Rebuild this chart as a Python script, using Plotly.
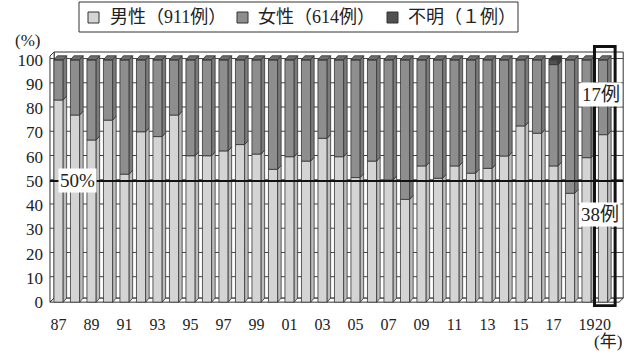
import plotly.graph_objects as go

# Survey years (two-digit labels) 1987-2020
years = ["87", "88", "89", "90", "91", "92", "93", "94", "95", "96", "97",
         "98", "99", "00", "01", "02", "03", "04", "05", "06", "07", "08",
         "09", "10", "11", "12", "13", "14", "15", "16", "17", "18", "19", "20"]

# Share of male cases (%) for 1987-2019
male_pct_to_2019 = [83.4, 77.2, 66.9, 75.1, 52.8, 70.3, 68.3, 77.2, 60.4, 60.4,
                    62.4, 65.0, 61.1, 54.8, 60.0, 58.2, 67.6, 60.0, 51.4, 58.2,
                    50.4, 42.4, 56.2, 51.1, 56.2, 53.2, 55.2, 60.3, 72.7, 69.7,
                    56.2, 44.9, 59.6]

# Case counts for 2020
male_2020 = 38
female_2020 = 17

# Cases of unknown sex (% of the year's cases)
unknown_pct_by_year = {"17": 2.0}

legend_labels = ["男性（911例）", "女性（614例）", "不明（１例）"]

# ---- derived series --------------------------------------------------------
male_pct = male_pct_to_2019 + [100.0 * male_2020 / (male_2020 + female_2020)]
unknown_pct = [unknown_pct_by_year.get(y, 0.0) for y in years]
female_pct = [100.0 - m - u for m, u in zip(male_pct, unknown_pct)]
idx = list(range(len(years)))

FONT = "Liberation Serif, Noto Sans CJK JP, serif"
OUTLINE = "#333333"

FRONT = {"male": "#d4d4d4", "female": "#8e8e8e", "unknown": "#505050"}
SIDE = {"male": "#bdbdbd", "female": "#7a7a7a", "unknown": "#3c3c3c"}
TOP = {"male": "#c4c4c4", "female": "#6e6e6e", "unknown": "#3a3a3a"}

BAR_W = 0.56     # front face width (category units)
DEPTH_X = 0.21   # bar depth, horizontal component
DEPTH_Y = 1.65   # bar depth, vertical component (%)

# chart geometry (pixels) for paper-coordinate helpers
W, H = 629, 356
ML, MR, MT, MB = 48, 3, 44, 49
PW, PH = W - ML - MR, H - MT - MB


def px_x(p):
    return (p - ML) / PW


def px_y(p):
    return (H - MB - p) / PH


fig = go.Figure()

segments = [
    ("male", male_pct, [0.0] * len(idx)),
    ("female", female_pct, male_pct),
    ("unknown", unknown_pct, [m + f for m, f in zip(male_pct, female_pct)]),
]

# front faces
for key, vals, base in segments:
    fig.add_trace(go.Bar(
        x=idx, y=vals, base=base, width=BAR_W,
        marker=dict(color=FRONT[key], line=dict(color=OUTLINE, width=0.8)),
        showlegend=False, hoverinfo="skip"))

# side faces (right-hand parallelograms)
for key, vals, base in segments:
    xs, ys = [], []
    for i, v, b in zip(idx, vals, base):
        if v <= 0:
            continue
        xr = i + BAR_W / 2
        xs += [xr, xr + DEPTH_X, xr + DEPTH_X, xr, xr, None]
        ys += [b, b + DEPTH_Y, b + v + DEPTH_Y, b + v, b, None]
    fig.add_trace(go.Scatter(
        x=xs, y=ys, mode="lines", fill="toself", fillcolor=SIDE[key],
        line=dict(color=OUTLINE, width=0.8), showlegend=False,
        hoverinfo="skip"))

# top faces, coloured by the uppermost segment of each bar
for key, vals, base in segments:
    xs, ys = [], []
    for i in idx:
        top_key = "unknown" if unknown_pct[i] > 0 else "female"
        if top_key != key:
            continue
        t = male_pct[i] + female_pct[i] + unknown_pct[i]
        xl, xr = i - BAR_W / 2, i + BAR_W / 2
        xs += [xl, xl + DEPTH_X, xr + DEPTH_X, xr, xl, None]
        ys += [t, t + DEPTH_Y, t + DEPTH_Y, t, t, None]
    if xs:
        fig.add_trace(go.Scatter(
            x=xs, y=ys, mode="lines", fill="toself", fillcolor=TOP[key],
            line=dict(color=OUTLINE, width=0.8), showlegend=False,
            hoverinfo="skip"))

# ---- 3D box: back wall, left wall, floor, gridlines ------------------------
FX0 = -0.52
BX0 = FX0 + 0.25
BX1 = 34.22
FX1 = BX1 - 0.25
WALL_TOP = 103.2
shapes = []
shapes.append(dict(type="rect", xref="x", yref="y", x0=BX0, x1=BX1,
                   y0=DEPTH_Y, y1=WALL_TOP, fillcolor="white",
                   line=dict(color=OUTLINE, width=1), layer="below"))
shapes.append(dict(type="path", xref="x", yref="y",
                   path=f"M{FX0},0 L{FX0},{WALL_TOP - DEPTH_Y} L{BX0},{WALL_TOP} L{BX0},{DEPTH_Y} Z",
                   fillcolor="white", line=dict(color=OUTLINE, width=1),
                   layer="below"))
shapes.append(dict(type="path", xref="x", yref="y",
                   path=f"M{FX0},0 L{FX1},0 L{BX1},{DEPTH_Y} L{BX0},{DEPTH_Y} Z",
                   fillcolor="white", line=dict(color=OUTLINE, width=1),
                   layer="below"))
for v in range(10, 101, 10):
    shapes.append(dict(type="line", xref="x", yref="y", x0=FX0, x1=BX1,
                       y0=v + 0.5, y1=v + 0.5,
                       line=dict(color="#444444", width=1), layer="below"))

# 50 % reference line
shapes.append(dict(type="line", xref="x", yref="y", x0=FX0, x1=BX1,
                   y0=50, y1=50, line=dict(color="#111111", width=2),
                   layer="above"))

# frame around the latest year
last = idx[-1]
shapes.append(dict(type="rect", xref="x", yref="y",
                   x0=last - 0.52, x1=last + 0.73, y0=-1.5, y1=105.5,
                   line=dict(color="#111111", width=3), layer="above"))

# ---- legend (drawn as a boxed row) -----------------------------------------
shapes.append(dict(type="rect", xref="paper", yref="paper",
                   x0=px_x(79), x1=px_x(518), y0=px_y(32), y1=px_y(2),
                   line=dict(color=OUTLINE, width=1), fillcolor="white"))
legend_keys = ["male", "female", "unknown"]
square_left = [88, 237, 387]
text_left = [108, 256, 406]
annotations = []
for key, sx, tx, lab in zip(legend_keys, square_left, text_left, legend_labels):
    shapes.append(dict(type="rect", xref="paper", yref="paper",
                       x0=px_x(sx), x1=px_x(sx + 11), y0=px_y(23), y1=px_y(12),
                       fillcolor=FRONT[key], line=dict(color=OUTLINE, width=1)))
    annotations.append(dict(xref="paper", yref="paper", x=px_x(tx), y=px_y(17),
                            xanchor="left", yanchor="middle", text=lab,
                            showarrow=False,
                            font=dict(family=FONT, size=18, color="#222")))

annotations.append(dict(xref="paper", yref="paper", x=px_x(27), y=px_y(40),
                        text="(%)", showarrow=False, xanchor="center",
                        yanchor="middle",
                        font=dict(family=FONT, size=17, color="#222")))
annotations.append(dict(xref="paper", yref="paper", x=px_x(608), y=px_y(341),
                        text="(年)", showarrow=False, xanchor="center",
                        yanchor="middle",
                        font=dict(family=FONT, size=17, color="#222")))
annotations.append(dict(xref="x", yref="y", x=-0.02, y=50, text="50%",
                        xanchor="left", yanchor="middle", showarrow=False,
                        bgcolor="white", borderpad=1,
                        font=dict(family=FONT, size=19, color="#222")))
annotations.append(dict(xref="x", yref="y", x=last - 0.15, y=85.5,
                        text=f"{female_2020}例", xanchor="center",
                        yanchor="middle", showarrow=False, bgcolor="white",
                        borderpad=1,
                        font=dict(family=FONT, size=19, color="#222")))
annotations.append(dict(xref="x", yref="y", x=last - 0.2, y=36,
                        text=f"{male_2020}例", xanchor="center",
                        yanchor="middle", showarrow=False, bgcolor="white",
                        borderpad=1,
                        font=dict(family=FONT, size=19, color="#222")))

tick_idx = idx[::2] + [idx[-1]]
fig.update_layout(
    width=W, height=H,
    margin=dict(l=ML, r=MR, t=MT, b=MB, pad=0),
    paper_bgcolor="white", plot_bgcolor="white",
    barmode="overlay", showlegend=False,
    shapes=shapes, annotations=annotations,
    xaxis=dict(range=[-0.64, 34.39], showgrid=False, zeroline=False,
               showline=False, tickmode="array", tickvals=tick_idx,
               ticktext=[years[i] for i in tick_idx], ticks="",
               tickangle=0, ticklabelstandoff=6,
               tickfont=dict(family=FONT, size=16, color="#222")),
    yaxis=dict(range=[-2, 106.5], showgrid=False, zeroline=False,
               showline=False, tickmode="array",
               tickvals=list(range(0, 101, 10)), ticks="",
               ticklabelstandoff=4,
               tickfont=dict(family=FONT, size=17, color="#222")),
)

fig.write_html("out.html")
